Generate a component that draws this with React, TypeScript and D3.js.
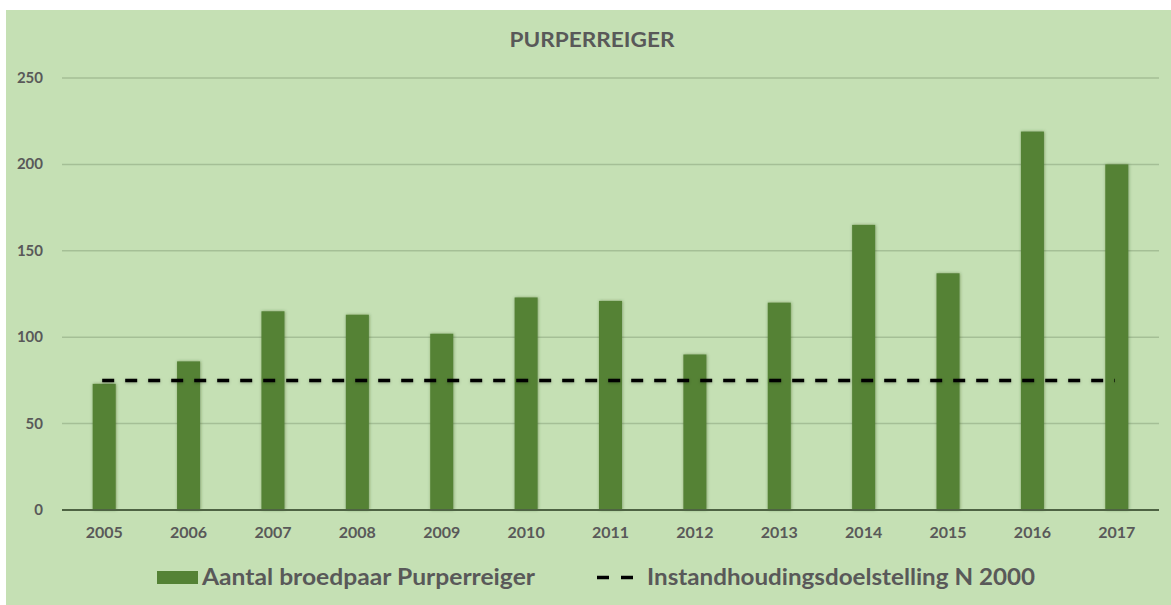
import React from "react";
import * as d3 from "d3";

const years: string[] = ["2005","2006","2007","2008","2009","2010","2011","2012","2013","2014","2015","2016","2017"];
const broedparen: number[] = [73, 86, 115, 113, 102, 123, 121, 90, 120, 165, 137, 219, 200];
const doelstelling: number[] = [75, 75, 75, 75, 75, 75, 75, 75, 75, 75, 75, 75, 75];
const yTicks: number[] = [0, 50, 100, 150, 200, 250];

const title = "PURPERREIGER";
const seriesBarName = "Aantal broedpaar Purperreiger";
const seriesLineName = "Instandhoudingsdoelstelling N 2000";

const W = 1171;
const H = 605;
const plot = { left: 62, right: 1159, top: 78, bottom: 510 };
const textColor = "#595959";
const barColor = "#548235";
const bgColor = "#c5e0b4";
const gridColor = "#a5bf96";
const font = "Lato, 'Open Sans', sans-serif";

export default function App() {
  const x = d3
    .scaleBand<string>()
    .domain(years)
    .range([plot.left, plot.right])
    .paddingInner(0.727)
    .paddingOuter(0.3635);
  const y = d3.scaleLinear().domain([0, 250]).range([plot.bottom, plot.top]);

  const line = d3
    .line<number>()
    .x((_, i) => (x(years[i]) as number) + x.bandwidth() / 2)
    .y((d) => y(d));

  return (
    <svg
      width={W}
      height={H}
      style={{ position: "absolute", left: 0, top: 0, display: "block" }}
      fontFamily={font}
    >
      <defs>
        <filter id="barShadow" x="-50%" y="-10%" width="200%" height="120%">
          <feDropShadow dx="0.5" dy="0" stdDeviation="1.6" floodColor="#2d4a1c" floodOpacity="0.45" />
        </filter>
        <filter id="lineShadow" filterUnits="userSpaceOnUse" x={0} y={0} width={W} height={H}>
          <feDropShadow dx="0" dy="1" stdDeviation="1.5" floodColor="#000" floodOpacity="0.25" />
        </filter>
      </defs>
      <rect x={0} y={0} width={W} height={H} fill="#ffffff" />
      <rect x={6} y={10} width={W - 6} height={H - 10} fill={bgColor} />

      <text
        x={592}
        y={47}
        textAnchor="middle"
        fontSize={21}
        fontWeight="bold"
        fill={textColor}
        textLength={165}
        lengthAdjust="spacingAndGlyphs"
      >
        {title}
      </text>

      {yTicks.map((t) =>
        t === 0 ? null : (
          <line
            key={"g" + t}
            x1={plot.left}
            x2={plot.right}
            y1={y(t)}
            y2={y(t)}
            stroke={gridColor}
            strokeWidth={1.5}
          />
        )
      )}
      {yTicks.map((t) => (
        <text
          key={"yl" + t}
          x={43}
          y={y(t) + 5}
          textAnchor="end"
          fontSize={15}
          fontWeight="bold"
          fill={textColor}
        >
          {t}
        </text>
      ))}

      {years.map((yr, i) => (
        <rect
          key={"b" + yr}
          x={x(yr)}
          y={y(broedparen[i])}
          width={x.bandwidth()}
          height={y(0) - y(broedparen[i])}
          fill={barColor}
          filter="url(#barShadow)"
        />
      ))}

      <line
        x1={plot.left}
        x2={plot.right}
        y1={y(0)}
        y2={y(0)}
        stroke="#4e6343"
        strokeWidth={2}
      />

      <path
        d={line(doelstelling) || ""}
        fill="none"
        stroke="#000"
        strokeWidth={3.5}
        strokeDasharray="12 11"
        transform="translate(-2,0)"
        filter="url(#lineShadow)"
      />

      {years.map((yr) => (
        <text
          key={"xl" + yr}
          x={(x(yr) as number) + x.bandwidth() / 2}
          y={538}
          textAnchor="middle"
          fontSize={16}
          fontWeight="bold"
          fill={textColor}
        >
          {yr}
        </text>
      ))}

      <g>
        <rect x={157} y={571} width={41} height={13} fill={barColor} />
        <text
          x={202}
          y={585}
          fontSize={22}
          fontWeight="bold"
          fill={textColor}
          textLength={333}
          lengthAdjust="spacingAndGlyphs"
        >
          {seriesBarName}
        </text>
        <line
          x1={597}
          x2={633}
          y1={577.5}
          y2={577.5}
          stroke="#000"
          strokeWidth={3.5}
          strokeDasharray="12 12"
        />
        <text
          x={647}
          y={585}
          fontSize={22}
          fontWeight="bold"
          fill={textColor}
          textLength={388}
          lengthAdjust="spacingAndGlyphs"
        >
          {seriesLineName}
        </text>
      </g>
    </svg>
  );
}
